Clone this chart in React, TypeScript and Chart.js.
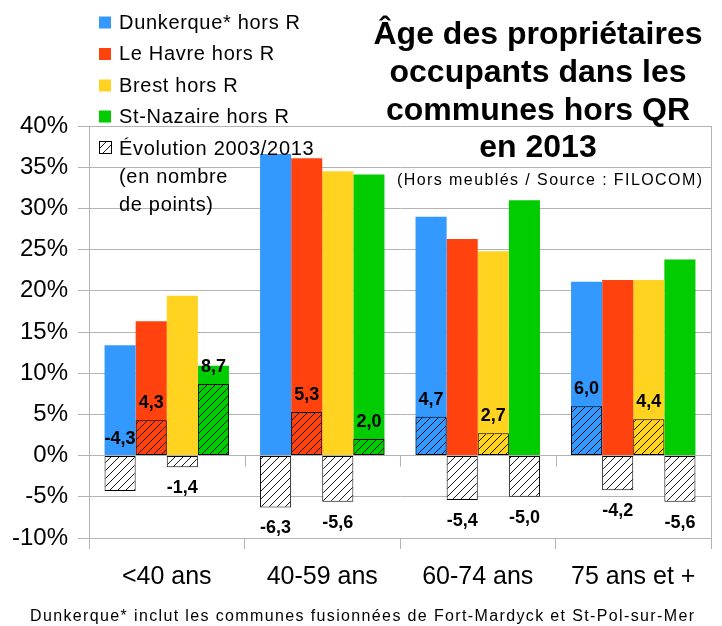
import { useEffect, useRef } from 'react';
import { Chart, registerables } from 'chart.js';

Chart.register(...registerables);

const FONT = '"Liberation Sans", Arial, sans-serif';

// ---- data ----
const categories = ['<40 ans', '40-59 ans', '60-74 ans', '75 ans et +'];
const seriesNames = ['Dunkerque* hors R', 'Le Havre hors R', 'Brest hors R', 'St-Nazaire hors R'];
const dunkerque = [13.4, 36.6, 29.0, 21.1];
const leHavre = [16.3, 36.1, 26.3, 21.3];
const brest = [19.4, 34.5, 24.8, 21.3];
const stNazaire = [10.9, 34.1, 31.0, 23.8];
const evoDunkerque = [-4.3, -6.3, 4.7, 6.0];
const evoLeHavre = [4.3, 5.3, -5.4, -4.2];
const evoBrest = [-1.4, -5.6, 2.7, 4.4];
const evoStNazaire = [8.7, 2.0, -5.0, -5.6];
const yMin = -10;
const yMax = 40;
const yStep = 5;

const titleLines = ['Âge des propriétaires', 'occupants dans les', 'communes hors QR', 'en 2013'];
const subtitle = '(Hors meublés / Source : FILOCOM)';
const footnote = 'Dunkerque* inclut les communes fusionnées de Fort-Mardyck et St-Pol-sur-Mer';
const evolutionLegend = ['Évolution 2003/2013', '(en nombre', 'de points)'];

// ---- style ----
const seriesColors = ['#3399ff', '#ff420e', '#ffd320', '#00cc00'];
const gridColor = '#b3b3b3';

function makeHatch(ctx: CanvasRenderingContext2D, bg: string): CanvasPattern {
  const s = 8;
  const c = document.createElement('canvas');
  c.width = s;
  c.height = s;
  const g = c.getContext('2d')!;
  g.fillStyle = bg;
  g.fillRect(0, 0, s, s);
  g.strokeStyle = '#000';
  g.lineWidth = 0.9;
  g.beginPath();
  g.moveTo(0, s);
  g.lineTo(s, 0);
  g.moveTo(-1, 1);
  g.lineTo(1, -1);
  g.moveTo(s - 1, s + 1);
  g.lineTo(s + 1, s - 1);
  g.stroke();
  return ctx.createPattern(c, 'repeat')!;
}

function charWidths(ctx: CanvasRenderingContext2D, text: string) {
  return [...text].map((ch) => ctx.measureText(ch).width);
}

function spacingFor(ctx: CanvasRenderingContext2D, text: string, target: number) {
  const w = charWidths(ctx, text).reduce((a, b) => a + b, 0);
  return (target - w) / ([...text].length - 1);
}

function drawSpaced(
  ctx: CanvasRenderingContext2D,
  text: string,
  x: number,
  y: number,
  align: 'left' | 'center' | 'right',
  spacing: number
) {
  const chars = [...text];
  const widths = charWidths(ctx, text);
  const total = widths.reduce((a, b) => a + b, 0) + spacing * (chars.length - 1);
  let cx = align === 'center' ? x - total / 2 : align === 'right' ? x - total : x;
  ctx.textAlign = 'left';
  chars.forEach((ch, i) => {
    ctx.fillText(ch, cx, y);
    cx += widths[i] + spacing;
  });
}

const fmt = (v: number) => v.toFixed(1).replace('.', ',');

export default function App() {
  const ref = useRef<HTMLCanvasElement | null>(null);

  useEffect(() => {
    const canvas = ref.current!;
    const ctx = canvas.getContext('2d')!;
    const colorHatch = seriesColors.map((c) => makeHatch(ctx, c));
    const whiteHatch = makeHatch(ctx, '#ffffff');

    const mainSeries = [dunkerque, leHavre, brest, stNazaire];
    const evoSeries = [evoDunkerque, evoLeHavre, evoBrest, evoStNazaire];

    const mainDatasets = mainSeries.map((d, i) => ({
      label: seriesNames[i],
      data: d,
      backgroundColor: seriesColors[i],
      borderWidth: 0,
      stack: 's' + i,
      order: 1,
      barPercentage: 1,
      categoryPercentage: 0.8,
    }));
    const evoDatasets = evoSeries.map((d, i) => ({
      label: 'evo ' + seriesNames[i],
      data: d,
      backgroundColor: (c: any) => ((c.raw as number) < 0 ? whiteHatch : colorHatch[i]),
      borderColor: '#000000',
      borderWidth: 1,
      borderSkipped: false,
      stack: 's' + i,
      order: 0,
      barPercentage: 1,
      categoryPercentage: 0.8,
    }));

    // label flipped above zero line (series index, category index)
    const flipped = [[0, 0]];

    const decor = {
      id: 'decor',
      afterDatasetsDraw(chart: any) {
        const c: CanvasRenderingContext2D = chart.ctx;
        c.save();
        c.font = `bold 18px ${FONT}`;
        c.fillStyle = '#000';
        c.textAlign = 'center';
        c.textBaseline = 'middle';
        for (let s = 0; s < 4; s++) {
          const meta = chart.getDatasetMeta(4 + s);
          meta.data.forEach((el: any, j: number) => {
            const v = evoSeries[s][j];
            let y: number;
            if (flipped.some(([a, b]) => a === s && b === j)) y = el.base - 17;
            else if (v >= 0) y = el.y - 17;
            else y = el.y + 21;
            c.fillText(fmt(v), el.x, y);
          });
        }
        c.restore();
      },
      afterDraw(chart: any) {
        const c: CanvasRenderingContext2D = chart.ctx;
        const area = chart.chartArea;
        const xs = chart.scales.x;
        const ys = chart.scales.y;
        c.save();
        // right frame
        c.strokeStyle = gridColor;
        c.lineWidth = 1;
        c.beginPath();
        c.moveTo(Math.round(area.right) + 0.5, area.top);
        c.lineTo(Math.round(area.right) + 0.5, area.bottom + 11);
        // ticks at the zero line
        const y0 = ys.getPixelForValue(0);
        for (let i = 1; i < categories.length; i++) {
          const px = Math.round(xs.getPixelForValue(i - 0.5)) + 0.5;
          c.moveTo(px, y0);
          c.lineTo(px, y0 + 11);
        }
        c.stroke();

        c.fillStyle = '#000';
        c.textBaseline = 'alphabetic';
        // title
        c.font = `bold 32px ${FONT}`;
        const titleBase = [44, 82, 120, 157];
        titleLines.forEach((t, i) => {
          c.textAlign = 'center';
          c.fillText(t, 538, titleBase[i]);
        });
        // subtitle
        c.font = `16px ${FONT}`;
        drawSpaced(c, subtitle, 549.5, 184.5, 'center', spacingFor(c, subtitle, 305));

        // legend
        c.font = `20px ${FONT}`;
        const legSp = spacingFor(c, seriesNames[0], 181);
        const legBase = [28.5, 60, 91.5, 122.5];
        seriesNames.forEach((n, i) => {
          c.fillStyle = seriesColors[i];
          c.fillRect(99, legBase[i] - 12, 12, 12);
          c.fillStyle = '#000';
          drawSpaced(c, n, 119, legBase[i], 'left', legSp);
        });
        const evoBase = [154.5, 183, 211];
        c.fillStyle = whiteHatch;
        c.fillRect(99, 141, 13, 13);
        c.strokeStyle = '#000';
        c.strokeRect(99.5, 141.5, 12, 12);
        c.fillStyle = '#000';
        evolutionLegend.forEach((t, i) => drawSpaced(c, t, 119, evoBase[i], 'left', legSp));

        // footnote
        c.font = `16px ${FONT}`;
        drawSpaced(c, footnote, 362, 621, 'center', spacingFor(c, footnote, 664));
        c.restore();
      },
    };

    const chart = new Chart(canvas, {
      type: 'bar',
      data: {
        labels: categories,
        datasets: [...mainDatasets, ...evoDatasets] as any,
      },
      options: {
        animation: false,
        responsive: false,
        devicePixelRatio: 1,
        layout: { padding: { top: 126, right: 11, left: 0, bottom: 0 } },
        plugins: {
          legend: { display: false },
          tooltip: { enabled: false },
          title: { display: false },
        },
        scales: {
          x: {
            type: 'category',
            offset: true,
            grid: {
              display: true,
              offset: true,
              drawOnChartArea: false,
              drawTicks: true,
              tickLength: 11,
              color: gridColor,
            },
            border: { display: true, color: gridColor },
            ticks: {
              color: '#000',
              font: { family: FONT, size: 25 },
              padding: 13,
              maxRotation: 0,
              autoSkip: false,
            },
            afterFit: (s: any) => {
              s.height = 88;
            },
          },
          y: {
            type: 'linear',
            min: yMin,
            max: yMax,
            stacked: false,
            ticks: {
              stepSize: yStep,
              color: '#000',
              font: { family: FONT, size: 24 },
              padding: 10,
              callback: (v: any) => `${v}%`,
            },
            grid: { color: gridColor, tickLength: 11, drawTicks: true },
            border: { display: true, color: gridColor },
            afterFit: (s: any) => {
              s.width = 89;
            },
          },
        },
      } as any,
      plugins: [decor],
    });

    return () => chart.destroy();
  }, []);

  return (
    <div style={{ position: 'absolute', left: 0, top: 0, width: 722, height: 626, background: '#fff' }}>
      <canvas ref={ref} width={722} height={626} style={{ display: 'block' }} />
    </div>
  );
}
